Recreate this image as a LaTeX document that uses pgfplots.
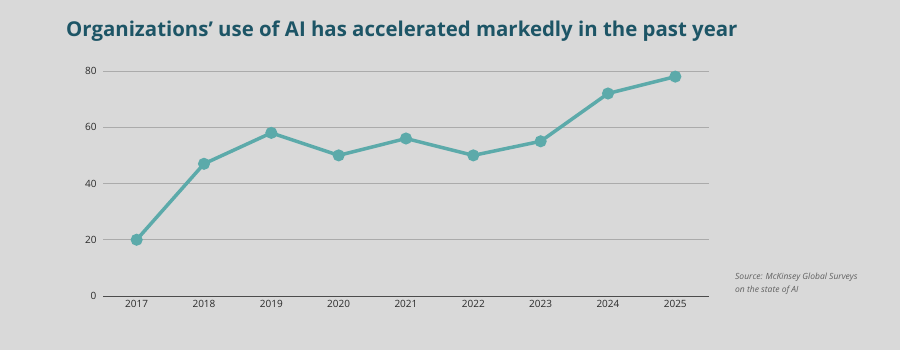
\documentclass[border=0pt]{standalone}
\usepackage{pgfplots}
\pgfplotsset{compat=1.18}
\usepackage{fontspec}
\setmainfont{Open Sans}
\definecolor{bg}{HTML}{D9D9D9}
\definecolor{teal}{HTML}{5CAAAA}
\definecolor{titlec}{HTML}{1D5566}
\definecolor{gridc}{HTML}{ABABAB}
\definecolor{tickc}{HTML}{2A2A2A}
\begin{document}
\begin{tikzpicture}
\fill[bg] (0pt,0pt) rectangle (900pt,350pt);
\node[anchor=base west, inner sep=0, text=titlec, font=\bfseries\fontsize{20.4}{24}\selectfont] at (66pt,313pt) {Organizations’ use of AI has accelerated markedly in the past year};
\node[anchor=north west, inner sep=0, align=left, text=gray!75!black, font=\itshape\fontsize{8.5}{13}\selectfont] at (735pt,77pt) {Source: McKinsey Global Surveys\\on the state of AI};
\begin{axis}[
  at={(103pt,54pt)}, anchor=south west,
  width=606pt, height=225pt, scale only axis,
  xmin=2016.5, xmax=2025.5, ymin=0, ymax=80,
  xtick={2017,...,2025}, ytick={0,20,40,60,80},
  xticklabel style={/pgf/number format/1000 sep={}},
  /pgf/number format/assume math mode=true,
  tick label style={font=\fontsize{10}{12}\selectfont, text=tickc},
  axis line style={draw=none},
  axis x line*=bottom, axis y line*=left,
  x axis line style={draw=gray!60!black, line width=0.8pt},
  ymajorgrids, grid style={gridc, line width=0.8pt},
  major tick length=0pt,
  yticklabel style={xshift=-3pt},
  xticklabel style={yshift=-1pt},
  clip=false,
]
\addplot[teal, line width=3.5pt, mark=*, mark size=4.2pt, mark options={fill=teal, draw=none}] coordinates {
(2017,20) (2018,47) (2019,58) (2020,50) (2021,56) (2022,50) (2023,55) (2024,72) (2025,78)
};
\end{axis}
\end{tikzpicture}
\end{document}
